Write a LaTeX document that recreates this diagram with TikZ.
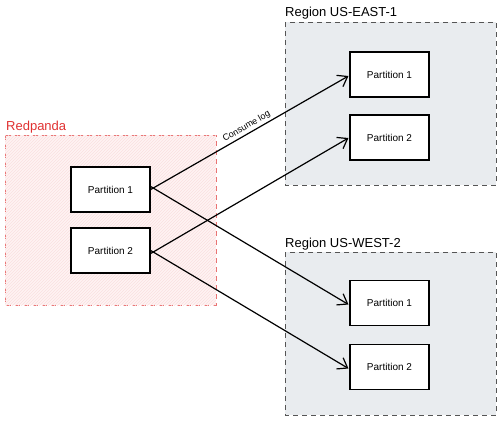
\documentclass[tikz,border=0pt]{standalone}
\usepackage{fontspec}
\setmainfont{Liberation Sans}
\usetikzlibrary{arrows.meta,patterns}
\definecolor{rpred}{HTML}{E03131}
\definecolor{rpfill}{HTML}{FFF3F3}
\definecolor{regfill}{HTML}{E9ECEF}
\definecolor{regline}{HTML}{555555}
\tikzset{
  part/.style={draw=black, line width=1.4pt, fill=white, minimum width=79pt, minimum height=45pt, inner sep=0pt, font=\fontsize{10}{12}\selectfont},
  region/.style={draw=regline, dashed, dash pattern=on 5pt off 4pt, line width=0.9pt, fill=regfill},
  rp/.style={draw=rpred!70, dash pattern=on 5pt off 4pt, line width=0.9pt, fill=rpfill, postaction={pattern=north east lines, pattern color=rpred!15}},
  grplabel/.style={anchor=base west, inner sep=0pt, font=\fontsize{13}{15}\selectfont},
  flow/.style={-{Straight Barb[length=9pt,width=13pt,line width=1.2pt]}, line width=1.2pt, black, shorten >=1pt}
}
\begin{document}
\begin{tikzpicture}[x=1pt,y=-1pt]
\useasboundingbox (0,0) rectangle (500,420);
% groups
\draw[rp] (5,135) rectangle (216,305);
\node[grplabel, text=rpred] (rplab) at (6,130) {Redpanda};
\draw[region] (285,22) rectangle (496,185);
\node[grplabel] (eastlab) at (285,17) {Region US-EAST-1};
\draw[region] (285,252) rectangle (496,415);
\node[grplabel] (westlab) at (285,247) {Region US-WEST-2};
% partitions
\node[part] (lp1) at (110.5,189.5) {Partition 1};
\node[part] (lp2) at (110.5,250.5) {Partition 2};
\node[part] (ep1) at (389.5,74.5) {Partition 1};
\node[part] (ep2) at (389.5,137.5) {Partition 2};
\node[part] (wp1) at (389.5,303) {Partition 1};
\node[part] (wp2) at (389.5,367) {Partition 2};
% flows
\draw[flow] ([yshift=0pt]lp1.east) -- node[pos=0.5, sloped, above, inner sep=2pt, font=\fontsize{9}{10}\selectfont] {Consume log} ([yshift=-1pt]ep1.west);
\draw[flow] ([yshift=-3pt]lp2.east) -- ([yshift=0pt]ep2.west);
\draw[flow] ([yshift=3pt]lp1.east) -- ([yshift=-2pt]wp1.west);
\draw[flow] ([yshift=0pt]lp2.east) -- ([yshift=-2pt]wp2.west);
\end{tikzpicture}
\end{document}
